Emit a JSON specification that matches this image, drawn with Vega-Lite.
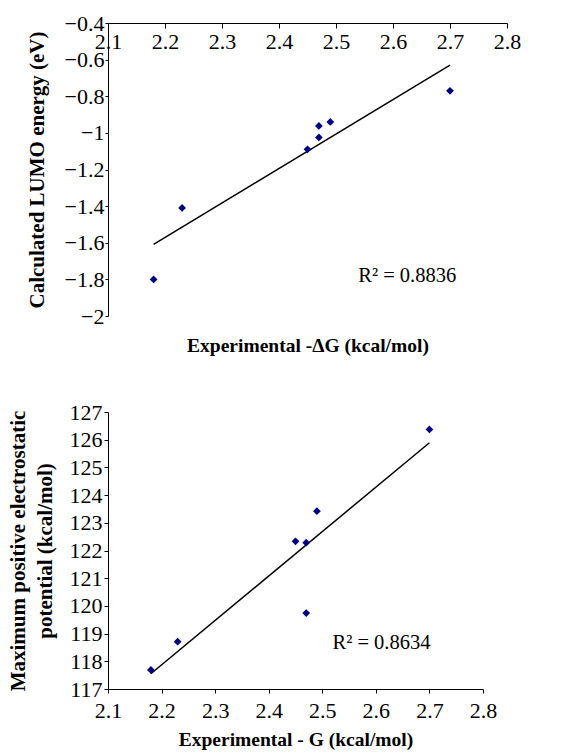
{
  "$schema": "https://vega.github.io/schema/vega-lite/v6.json",
  "background": "white",
  "padding": {"left": 6, "top": 12, "right": 5, "bottom": 5},
  "datasets": {
    "lumo": [
      {"dg": 2.18, "lumo": -1.80},
      {"dg": 2.23, "lumo": -1.41},
      {"dg": 2.45, "lumo": -1.09},
      {"dg": 2.47, "lumo": -1.025},
      {"dg": 2.47, "lumo": -0.962},
      {"dg": 2.49, "lumo": -0.94},
      {"dg": 2.70, "lumo": -0.77}
    ],
    "lumoFit": [
      {"dg": 2.18, "lumo": -1.609},
      {"dg": 2.70, "lumo": -0.63}
    ],
    "lumoNote": [
      {"dg": 2.539, "lumo": -1.813, "label": "R² = 0.8836"}
    ],
    "esp": [
      {"dg": 2.18, "esp": 117.69},
      {"dg": 2.23, "esp": 118.71},
      {"dg": 2.45, "esp": 122.33},
      {"dg": 2.47, "esp": 122.28},
      {"dg": 2.47, "esp": 119.74},
      {"dg": 2.49, "esp": 123.42},
      {"dg": 2.70, "esp": 126.37}
    ],
    "espFit": [
      {"dg": 2.18, "esp": 117.55},
      {"dg": 2.70, "esp": 125.89}
    ],
    "espNote": [
      {"dg": 2.519, "esp": 118.46, "label": "R² = 0.8634"}
    ]
  },
  "config": {
    "view": {"stroke": null},
    "font": "Liberation Serif",
    "axis": {
      "grid": false,
      "domainColor": "black",
      "tickColor": "black",
      "labelColor": "black",
      "titleColor": "black",
      "labelFont": "Liberation Serif",
      "titleFont": "Liberation Serif",
      "labelFontSize": 22,
      "titleFontSize": 19.5,
      "titleFontWeight": "bold",
      "labelOverlap": false,
      "domainWidth": 1,
      "tickWidth": 1
    }
  },
  "vconcat": [
    {
      "width": 399,
      "height": 293,
      "encoding": {
        "x": {
          "field": "dg", "type": "quantitative",
          "scale": {"domain": [2.1, 2.8], "nice": false, "zero": false},
          "axis": {
            "orient": "top",
            "values": [2.1, 2.2, 2.3, 2.4, 2.5, 2.6, 2.7, 2.8],
            "format": "~g",
            "tickSize": -5,
            "labelPadding": -3.5,
            "labelBaseline": "top",
            "labelFlush": false,
            "labelOverlap": false,
            "title": "Experimental -ΔG (kcal/mol)",
            "titleY": 328,
            "titleBaseline": "alphabetic"
          }
        },
        "y": {
          "field": "lumo", "type": "quantitative",
          "scale": {"domain": [-2, -0.4], "nice": false, "zero": false},
          "axis": {
            "values": [-2, -1.8, -1.6, -1.4, -1.2, -1, -0.8, -0.6, -0.4],
            "format": "~g",
            "tickSize": 3,
            "labelPadding": 1,
            "labelFlush": false,
            "labelOverlap": false,
            "title": "Calculated LUMO energy (eV)",
            "titleFontSize": 21,
            "titlePadding": 17
          }
        }
      },
      "layer": [
        {
          "data": {"name": "lumoFit"},
          "mark": {"type": "line", "color": "black", "strokeWidth": 1.5}
        },
        {
          "data": {"name": "lumo"},
          "mark": {"type": "point", "shape": "diamond", "filled": true, "color": "#000080", "size": 60, "opacity": 1}
        },
        {
          "data": {"name": "lumoNote"},
          "mark": {"type": "text", "align": "left", "baseline": "alphabetic", "fontSize": 20.5, "font": "Liberation Serif", "color": "black"},
          "encoding": {
            "text": {"field": "label"}
          }
        }
      ]
    },
    {
      "width": 375,
      "height": 277,
      "encoding": {
        "x": {
          "field": "dg", "type": "quantitative",
          "scale": {"domain": [2.1, 2.8], "nice": false, "zero": false},
          "axis": {
            "values": [2.1, 2.2, 2.3, 2.4, 2.5, 2.6, 2.7, 2.8],
            "format": "~g",
            "tickSize": 4,
            "labelPadding": 7,
            "labelFlush": false,
            "labelOverlap": false,
            "title": "Experimental - G (kcal/mol)",
            "titleY": 56,
            "titleBaseline": "alphabetic"
          }
        },
        "y": {
          "field": "esp", "type": "quantitative",
          "scale": {"domain": [117, 127], "nice": false, "zero": false},
          "axis": {
            "values": [117, 118, 119, 120, 121, 122, 123, 124, 125, 126, 127],
            "tickSize": 4,
            "labelPadding": 2,
            "labelFlush": false,
            "labelOverlap": false,
            "title": ["Maximum positive electrostatic", "potential (kcal/mol)"],
            "titleFontSize": 21,
            "titleLineHeight": 27,
            "titlePadding": 14
          }
        }
      },
      "layer": [
        {
          "data": {"name": "espFit"},
          "mark": {"type": "line", "color": "black", "strokeWidth": 1.5}
        },
        {
          "data": {"name": "esp"},
          "mark": {"type": "point", "shape": "diamond", "filled": true, "color": "#000080", "size": 60, "opacity": 1}
        },
        {
          "data": {"name": "espNote"},
          "mark": {"type": "text", "align": "left", "baseline": "alphabetic", "fontSize": 20.5, "font": "Liberation Serif", "color": "black"},
          "encoding": {
            "text": {"field": "label"}
          }
        }
      ]
    }
  ],
  "bounds": "flush",
  "spacing": 96
}
